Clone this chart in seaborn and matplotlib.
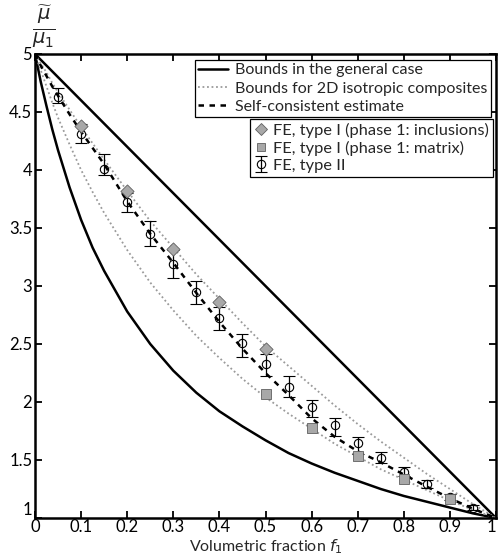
import numpy as np
import pandas as pd
import matplotlib
matplotlib.use("Agg")
import matplotlib.pyplot as plt
import seaborn as sns
from matplotlib.lines import Line2D

# ---- data ----
f_voigt = [0.0, 1.0]
mu_voigt = [5.0, 1.0]

f_curve = [0.0, 0.0125, 0.025, 0.0375, 0.05, 0.075, 0.1, 0.125, 0.15, 0.2, 0.25, 0.3,
           0.35, 0.4, 0.45, 0.5, 0.55, 0.6, 0.65, 0.7, 0.75, 0.8, 0.85, 0.9, 0.95, 1.0]
mu_reuss = [5.0, 4.76, 4.55, 4.35, 4.17, 3.85, 3.57, 3.33, 3.13, 2.78, 2.50, 2.27,
            2.08, 1.92, 1.79, 1.67, 1.56, 1.47, 1.39, 1.32, 1.25, 1.19, 1.14, 1.09, 1.04, 1.0]
mu_hs_up = [5.0, 4.92, 4.84, 4.75, 4.67, 4.52, 4.37, 4.23, 4.09, 3.82, 3.56, 3.33,
            3.10, 2.89, 2.68, 2.48, 2.31, 2.14, 1.97, 1.81, 1.66, 1.52, 1.38, 1.25, 1.12, 1.0]
mu_hs_low = [5.0, 4.86, 4.72, 4.58, 4.45, 4.22, 4.00, 3.81, 3.63, 3.31, 3.03, 2.79,
             2.57, 2.38, 2.20, 2.04, 1.90, 1.77, 1.64, 1.53, 1.42, 1.33, 1.24, 1.15, 1.07, 1.0]
mu_sc = [5.0, 4.90, 4.81, 4.72, 4.64, 4.48, 4.33, 4.19, 4.05, 3.73, 3.45, 3.20,
         2.94, 2.69, 2.46, 2.25, 2.06, 1.86, 1.70, 1.575, 1.48, 1.375, 1.27, 1.17, 1.08, 1.0]

f_incl = [0.1, 0.2, 0.3, 0.4, 0.5]
mu_incl = [4.38, 3.82, 3.32, 2.865, 2.46]

f_matrix = [0.5, 0.6, 0.7, 0.8, 0.9]
mu_matrix = [2.07, 1.78, 1.535, 1.335, 1.165]

f_fe2 = [0.05, 0.1, 0.15, 0.2, 0.25, 0.3, 0.35, 0.4, 0.45, 0.5,
         0.55, 0.6, 0.65, 0.7, 0.75, 0.8, 0.85, 0.9, 0.95]
mu_fe2 = [4.63, 4.31, 4.01, 3.72, 3.45, 3.19, 2.95, 2.72, 2.51, 2.33,
          2.13, 1.96, 1.80, 1.65, 1.52, 1.40, 1.29, 1.18, 1.09]
mu_fe2_hi = [4.71, 4.40, 4.14, 3.80, 3.56, 3.31, 3.04, 2.82, 2.59, 2.41,
             2.22, 2.02, 1.86, 1.70, 1.57, 1.44, 1.33, 1.21, 1.11]
mu_fe2_lo = [4.575, 4.23, 3.96, 3.64, 3.345, 3.07, 2.845, 2.62, 2.39, 2.22,
             2.04, 1.87, 1.71, 1.55, 1.47, 1.36, 1.26, 1.155, 1.07]

xticks = [0, 0.1, 0.2, 0.3, 0.4, 0.5, 0.6, 0.7, 0.8, 0.9, 1]
xticklabels = ["0", "0.1", "0.2", "0.3", "0.4", "0.5", "0.6", "0.7", "0.8", "0.9", "1"]
yticks = [1, 1.5, 2, 2.5, 3, 3.5, 4, 4.5, 5]
yticklabels = ["1", "1.5", "2", "2.5", "3", "3.5", "4", "4.5", "5"]

labels_lines = ["Bounds in the general case", "Bounds for 2D isotropic composites",
                "Self-consistent estimate"]
labels_marks = ["FE, type I (phase 1: inclusions)", "FE, type I (phase 1: matrix)",
                "FE, type II"]

# ---- style ----
sns.set_style("white")
plt.rcParams['font.family'] = ['Lato', 'DejaVu Sans']
plt.rcParams['mathtext.fontset'] = 'dejavusans'

fig = plt.figure(figsize=(4.98, 5.56), dpi=100)
ax = fig.add_axes([35/498, 1-518/556, (496-35)/498, (518-54)/556])

gray = "#a8a8a8"
dot_gray = "#9a9a9a"

sns.lineplot(x=f_voigt, y=mu_voigt, ax=ax, color="black", lw=1.8, sort=False)
sns.lineplot(x=f_curve, y=mu_reuss, ax=ax, color="black", lw=1.8, sort=False)
sns.lineplot(x=f_curve, y=mu_hs_up, ax=ax, color=dot_gray, lw=1.3, ls=(0, (1, 1.5)), sort=False)
sns.lineplot(x=f_curve, y=mu_hs_low, ax=ax, color=dot_gray, lw=1.3, ls=(0, (1, 1.5)), sort=False)
sns.lineplot(x=f_curve, y=mu_sc, ax=ax, color="black", lw=1.8, ls=(0, (2.2, 2.2)), sort=False)

fe = pd.DataFrame({"f": f_fe2, "mu": mu_fe2, "hi": mu_fe2_hi, "lo": mu_fe2_lo})
eb = ax.errorbar(fe["f"], fe["mu"], yerr=[fe["mu"] - fe["lo"], fe["hi"] - fe["mu"]],
                 fmt="o", mfc="none", mec="black", ms=6, mew=0.8,
                 ecolor="black", elinewidth=0.9, capsize=4.5, capthick=0.9, zorder=4)

sns.scatterplot(x=f_incl, y=mu_incl, ax=ax, marker="D", s=45, color=gray,
                edgecolor="#606060", linewidth=0.6, zorder=5)
sns.scatterplot(x=f_matrix, y=mu_matrix, ax=ax, marker="s", s=45, color=gray,
                edgecolor="#606060", linewidth=0.6, zorder=5)

ax.set_xlim(0, 1)
ax.set_ylim(1, 5)
ax.set_xticks(xticks)
ax.set_xticklabels(xticklabels)
ax.set_yticks(yticks)
ax.set_yticklabels(yticklabels)
ax.tick_params(direction="in", length=5, width=1.3, labelsize=12, pad=2,
               top=True, right=True, bottom=True, left=True, colors="black")
ax.tick_params(axis="x", pad=1)
ax.get_xticklabels()[-1].set_ha("right")
ax.get_yticklabels()[0].set_va("bottom")
for s in ax.spines.values():
    s.set_linewidth(1.8)
    s.set_color("black")
ax.set_xlabel("Volumetric fraction $f_1$", fontsize=11.5)
ax.xaxis.set_label_coords(0.5, -0.041)
ax.set_ylabel("")
fig.text(44/498, 1-26/556, r"$\frac{\widetilde{\mu}}{\mu_1}$", fontsize=20,
         ha="center", va="center")

h1 = [Line2D([], [], color="black", lw=1.8),
      Line2D([], [], color=dot_gray, lw=1.3, ls=(0, (1, 1.5))),
      Line2D([], [], color="black", lw=1.8, ls=(0, (2.2, 2.2)))]
leg1 = ax.legend(h1, labels_lines, loc="upper right", bbox_to_anchor=(491/498, 1-60/556),
                 bbox_transform=fig.transFigure, fontsize=11.5, frameon=True, fancybox=False,
                 edgecolor="black", framealpha=1, borderpad=0.2, labelspacing=0.25,
                 handlelength=1.9, handletextpad=0.45, borderaxespad=0)
leg1.get_frame().set_linewidth(0.9)
ax.add_artist(leg1)

h2 = [Line2D([], [], marker="D", ls="none", color=gray, mec="#606060", ms=6, mew=0.6),
      Line2D([], [], marker="s", ls="none", color=gray, mec="#606060", ms=6, mew=0.6),
      eb]
leg2 = ax.legend(h2, labels_marks, loc="upper right", bbox_to_anchor=(493/498, 1-119/556),
                 bbox_transform=fig.transFigure, fontsize=11.8, frameon=True, fancybox=False,
                 edgecolor="black", framealpha=1, borderpad=0.25, labelspacing=0.15,
                 handlelength=0.8, handletextpad=0.35, borderaxespad=0)
leg2.get_frame().set_linewidth(0.9)

fig.savefig("out.png", dpi=100)
